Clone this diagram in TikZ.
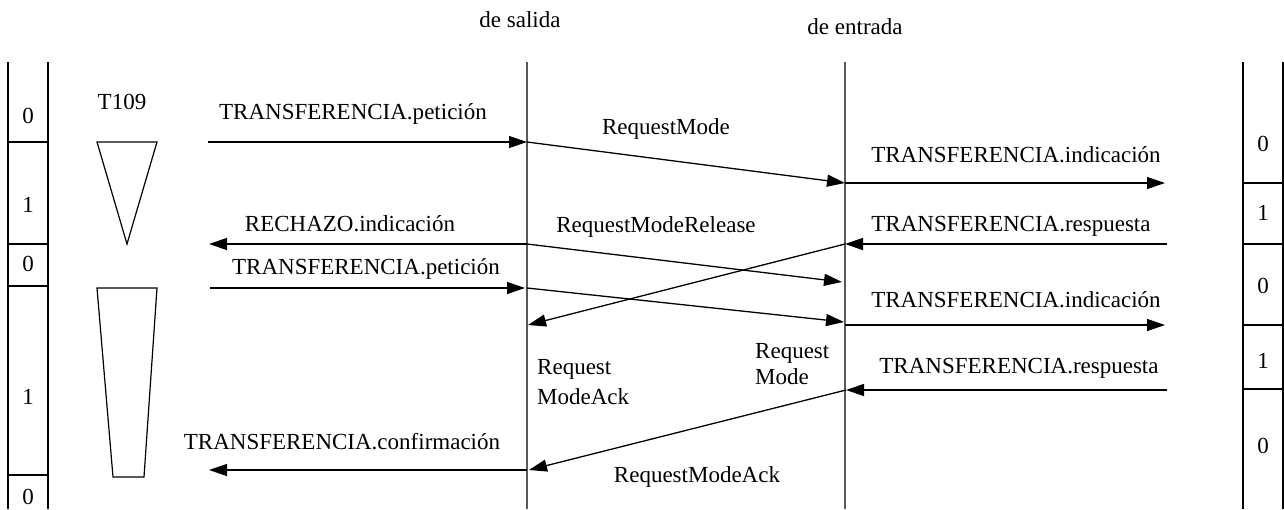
\documentclass[tikz,border=0pt]{standalone}
\usepackage{fontspec}
\setmainfont{Liberation Serif}
\usetikzlibrary{arrows.meta}
\begin{document}
\begin{tikzpicture}[x=1pt,y=-1pt,
  lbl/.style={font=\fontsize{23}{30}\selectfont, inner sep=0pt},
  life/.style={draw=black!65, line width=1.4pt},
  col/.style={draw=black, line width=1.2pt},
  msg/.style={draw=black, line width=1.3pt, -{Triangle[length=18pt,width=12pt]}},
  shp/.style={draw=black, line width=1.2pt}]
\useasboundingbox (0,0) rectangle (1284,509);
% header
\node[lbl] (hs) at (520,20) {de salida};
\node[lbl] (he) at (855,27) {de entrada};
% lifelines
\coordinate (At) at (527,62); \coordinate (Ab) at (527,509);
\coordinate (Bt) at (845,62); \coordinate (Bb) at (845,509);
\draw[life] (At) -- (Ab);
\draw[life] (Bt) -- (Bb);
% left column
\draw[col] (8,62) -- (8,509) (48,62) -- (48,509);
\foreach \yy in {142,244,286,475} \draw[col] (8,\yy) -- (48,\yy);
\node[lbl] (l0) at (28,116) {0};
\node[lbl] (l1) at (28,205) {1};
\node[lbl] (l2) at (28,264) {0};
\node[lbl] (l3) at (28,397) {1};
\node[lbl] (l4) at (28,497) {0};
% right column
\draw[col] (1243,62) -- (1243,509) (1283,62) -- (1283,509);
\foreach \yy in {183,244,325,389} \draw[col] (1243,\yy) -- (1283,\yy);
\node[lbl] (r0) at (1263,144) {0};
\node[lbl] (r1) at (1263,213) {1};
\node[lbl] (r2) at (1263,286) {0};
\node[lbl] (r3) at (1263,361) {1};
\node[lbl] (r4) at (1263,446) {0};
% timer T109
\node[lbl] (t109) at (122,102) {T109};
\draw[shp] (97,142) -- (157,142) -- (127,244) -- cycle;
\draw[shp] (97,288) -- (157,288) -- (144,477) -- (113,477) -- cycle;
% message end points
\coordinate (m1a) at (208,142); \coordinate (m1b) at (527,142);
\coordinate (m2b) at (845,183);
\coordinate (m3b) at (1165,183);
\coordinate (m4a) at (1167,244); \coordinate (m4b) at (845,244);
\coordinate (m5a) at (527,244); \coordinate (m5b) at (209,244);
\coordinate (m6b) at (842,282);
\coordinate (m7a) at (210,288); \coordinate (m7b) at (525,288);
\coordinate (m8a) at (527,288); \coordinate (m8b) at (844,322);
\coordinate (m9b) at (528,325);
\coordinate (m10a) at (845,325); \coordinate (m10b) at (1165,325);
\coordinate (m11a) at (1167,390); \coordinate (m11b) at (846,390);
\coordinate (m12b) at (529,470);
\coordinate (m13a) at (527,470); \coordinate (m13b) at (209,470);
% messages
\draw[msg] (m1a) -- (m1b);
\draw[msg] (m1b) -- (m2b);
\draw[msg] (m2b) -- (m3b);
\draw[msg] (m4a) -- (m4b);
\draw[msg] (m5a) -- (m5b);
\draw[msg] (m5a) -- (m6b);
\draw[msg] (m7a) -- (m7b);
\draw[msg] (m8a) -- (m8b);
\draw[msg] (m4b) -- (m9b);
\draw[msg] (m10a) -- (m10b);
\draw[msg] (m11a) -- (m11b);
\draw[msg] (m11b) -- (m12b);
\draw[msg] (m13a) -- (m13b);
% labels
\node[lbl] (t1) at (353,114) {TRANSFERENCIA.petición};
\node[lbl] (t2) at (666,129) {RequestMode};
\node[lbl] (t3) at (1016,155) {TRANSFERENCIA.indicación};
\node[lbl] (t4) at (1011,226) {TRANSFERENCIA.respuesta};
\node[lbl] (t5) at (350,224) {RECHAZO.indicación};
\node[lbl] (t6) at (656,227) {RequestModeRelease};
\node[lbl] (t7) at (366,269) {TRANSFERENCIA.petición};
\node[lbl] (t8) at (1016,300) {TRANSFERENCIA.indicación};
\node[lbl] (t9) at (1019,368) {TRANSFERENCIA.respuesta};
\node[lbl, align=left, anchor=north west] (t10) at (537,359) {Request\\ModeAck};
\node[lbl, align=left, anchor=north west, font=\fontsize{23}{26}\selectfont] (t11) at (755,343) {Request\\Mode};
\node[lbl] (t12) at (342,442) {TRANSFERENCIA.confirmación};
\node[lbl] (t13) at (697,477) {RequestModeAck};
\end{tikzpicture}
\end{document}
